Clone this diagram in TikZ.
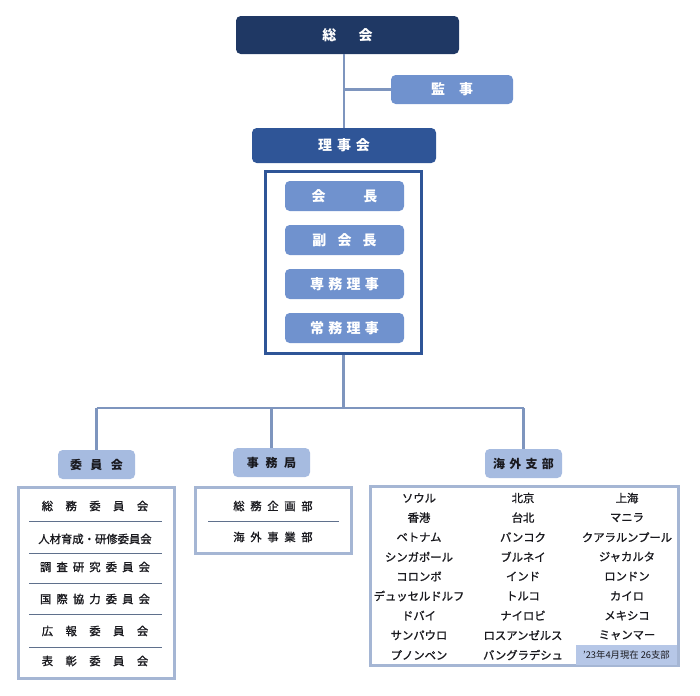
\documentclass[tikz,border=0pt]{standalone}
\usepackage{fontspec}
\setmainfont{Noto Sans CJK JP}
\newfontfamily\itemfont[FakeBold=1.2]{Noto Sans CJK JP}
\definecolor{sokaic}{RGB}{31,56,100}
\definecolor{rijic}{RGB}{47,85,151}
\definecolor{midc}{RGB}{112,146,206}
\definecolor{lightc}{RGB}{166,187,224}
\definecolor{linkc}{RGB}{126,149,190}
\definecolor{framec}{RGB}{165,182,212}
\definecolor{sepc}{RGB}{95,112,140}
\definecolor{notec}{RGB}{182,199,231}
\definecolor{inkc}{RGB}{25,25,30}

% letter spacing: \lsp{gap}{chars}
\newcommand\lsp[2]{\def\lspgap{#1}\edef\lsptmp{#2}\expandafter\lspnext\lsptmp\relax}
\def\lspnext#1#2{#1\ifx\relax#2\else\hspace{\lspgap}\expandafter\lspnext\expandafter#2\fi}

\tikzstyle{topbox} = [
  rectangle,
  rounded corners=3.5pt,
  inner sep=0pt,
  text=white,
  font=\bfseries\fontsize{10.5}{12}\selectfont,
]
\tikzstyle{unitbox} = [
  topbox,
  fill=lightc,
  text=inkc,
  minimum width=57.75pt,
  minimum height=21.75pt,
  font=\bfseries\fontsize{9}{11}\selectfont,
]
\tikzstyle{listframe} = [
  draw=framec,
  line width=2.2pt,
  inner sep=0pt,
]
\tikzstyle{link} = [
  draw=linkc,
  line width=2.2pt,
]
\tikzstyle{item} = [
  inner sep=0pt,
  text=inkc,
  font=\itemfont\fontsize{8.5}{10}\selectfont,
]

\begin{document}
\begin{tikzpicture}[x=0.75pt,y=-0.75pt]
      \useasboundingbox (0,0) rectangle (700,696);

      % Top of the tree
      \node[topbox, fill=sokaic, minimum width=167.25pt, minimum height=28.5pt]
        (sokai) at (347.5,35) {\lsp{1.6em}{総会}};
      \node[topbox, fill=midc, minimum width=91.5pt, minimum height=21.75pt]
        (kanji) at (452,89.5) {\lsp{1em}{監事}};
      \node[topbox, fill=rijic, minimum width=138pt, minimum height=26.25pt]
        (rijikai) at (344,145.5) {\lsp{0.35em}{理事会}};

      % Officers
      \node[draw=rijic, line width=2.25pt, minimum width=117pt, minimum height=136.5pt]
        (board) at (343.5,262.5) {};
      \foreach \txt/\gap [count=\i] in {会長/2.7em, 副会長/0.8em, 専務理事/0.3em, 常務理事/0.3em} {
        \node[topbox, fill=midc, minimum width=89.25pt, minimum height=22.5pt]
          (officer\i) at (344.5,152+44*\i) {\lsp{\gap}{\txt}};
      }

      % Units
      \node[unitbox] (iinkai) at (96.5,464.5) {\lsp{0.7em}{委員会}};
      \node[unitbox] (jimu) at (271.5,462.5) {\lsp{0.55em}{事務局}};
      \node[unitbox] (kaigai) at (523.5,463.5) {\lsp{0.35em}{海外支部}};

      % Connectors
      \coordinate (hub) at (343.5,408);
      \draw[link] (sokai.south -| rijikai.north) -- (rijikai.north);
      \draw[link] (kanji.west) -- (kanji.west -| rijikai.north);
      \draw[link] (board.south) -- (hub);
      \draw[link] (iinkai.north |- hub) -- (kaigai.north |- hub);
      \draw[link] (iinkai.north |- hub) -- (iinkai.north);
      \draw[link] (jimu.north |- hub) -- (jimu.north);
      \draw[link] (kaigai.north |- hub) -- (kaigai.north);

      % Committees
      \node[listframe, minimum width=117pt, minimum height=143.25pt] (iinlist) at (96.5,583) {};
      \foreach \txt/\gap/\y [count=\i] in {
          総務委員会/1.1em/506, 人材育成・研修委員会/0em/539, 調査研究委員会/0.45em/567,
          国際協力委員会/0.45em/599, 広報委員会/1.1em/631, 表彰委員会/1.1em/661} {
        \node[item] (iin\i) at (95,\y) {\lsp{\gap}{\txt}};
      }
      \foreach \y in {521,553,583,614,647}
        \draw[sepc, line width=0.6pt] (29,\y) -- (162,\y);

      % Secretariat
      \node[listframe, minimum width=117pt, minimum height=49.5pt] (jimulist) at (273.5,520.5) {};
      \node[item] (jimu1) at (273,506) {\lsp{0.5em}{総務企画部}};
      \node[item] (jimu2) at (273,537) {\lsp{0.5em}{海外事業部}};
      \draw[sepc, line width=0.6pt] (208,521) -- (339,521);

      % Overseas branches
      \node[listframe, minimum width=231pt, minimum height=134.25pt] (kaigailist) at (524.5,576) {};
      \foreach \a/\b/\c [count=\i] in {
          ソウル/北京/上海, 香港/台北/マニラ, ベトナム/バンコク/クアラルンプール,
          シンガポール/ブルネイ/ジャカルタ, コロンボ/インド/ロンドン,
          デュッセルドルフ/トルコ/カイロ, ドバイ/ナイロビ/メキシコ,
          サンパウロ/ロスアンゼルス/ミャンマー} {
        \node[item] (br\i a) at (419,478.4+19.6*\i) {\a};
        \node[item] (br\i b) at (523,478.4+19.6*\i) {\b};
        \node[item] (br\i c) at (627,478.4+19.6*\i) {\c};
      }
      \node[item] (br9a) at (419,655) {プノンペン};
      \node[item] (br9b) at (523,655) {バングラデシュ};
      \node[fill=notec, inner sep=0pt, minimum width=75.75pt, minimum height=15pt,
        text=inkc, font=\fontsize{7}{8}\selectfont] (note) at (626.5,655) {’23年4月現在 26支部};
    \end{tikzpicture}
\end{document}
